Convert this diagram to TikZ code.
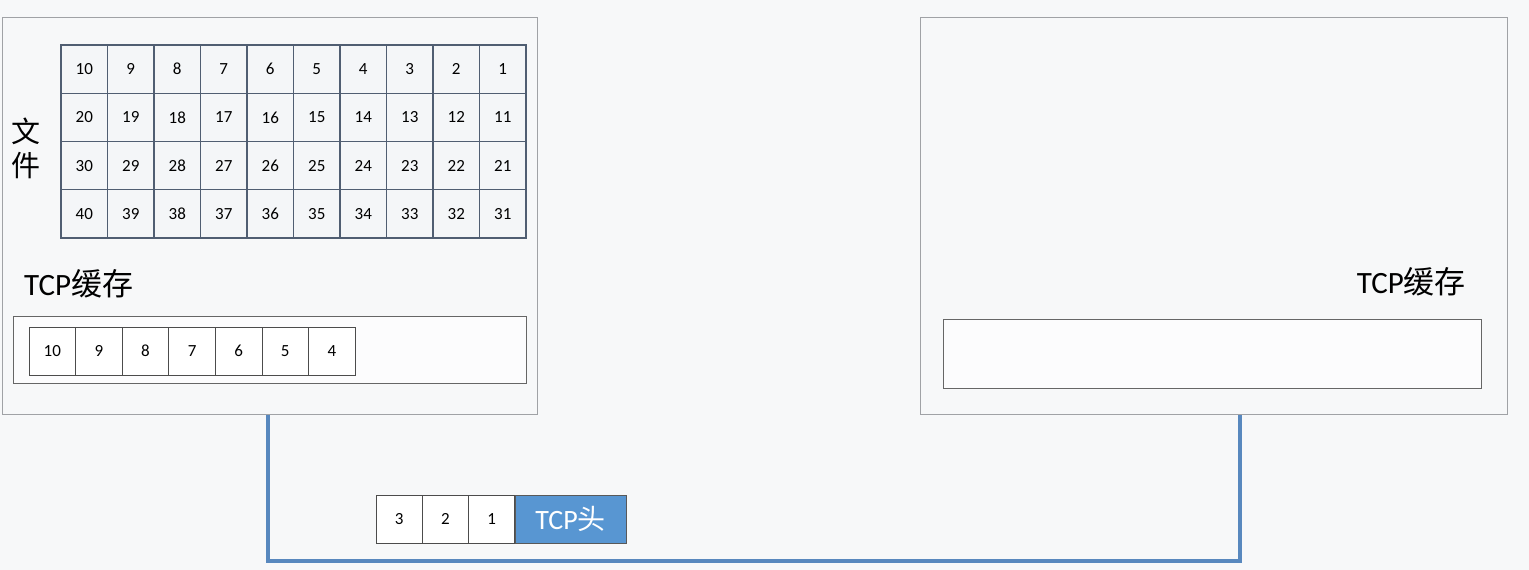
\documentclass[tikz,border=0pt]{standalone}
\usepackage{fontspec}
\setmainfont{Carlito}
\newfontfamily\cjk{Noto Sans CJK SC}
\definecolor{bg}{RGB}{247,248,249}
\definecolor{panelline}{RGB}{160,162,166}
\definecolor{gridline}{RGB}{80,94,114}
\definecolor{cellfill}{RGB}{244,246,248}
\definecolor{wireblue}{RGB}{88,136,190}
\definecolor{headblue}{RGB}{88,150,210}
\tikzset{
  panel/.style={draw=panelline, line width=1pt, fill=bg, inner sep=0pt, anchor=north west},
  bufbox/.style={draw=gray!80!black, line width=1pt, fill=white!60!bg, inner sep=0pt, anchor=north west},
  cell/.style={draw=gridline, line width=1.2pt, fill=cellfill, inner sep=0pt,
    minimum width=46.5pt, minimum height=48.25pt, font=\fontsize{17}{20}\selectfont},
  bcell/.style={draw=gray!60!black, line width=1pt, fill=white, inner sep=0pt,
    minimum width=46.6pt, minimum height=48pt, font=\fontsize{17}{20}\selectfont},
  headcell/.style={draw=gray!70!black, line width=1pt, fill=headblue, text=white, inner sep=0pt,
    minimum width=111pt, minimum height=48pt, font=\fontsize{28}{30}\selectfont},
  lbl/.style={inner sep=0pt, font=\fontsize{31}{34}\selectfont},
  wire/.style={draw=wireblue, line width=3.2pt}
}
\begin{document}
\begin{tikzpicture}[x=1pt,y=-1pt]
\path[fill=bg] (0,0) rectangle (1529,570);
\useasboundingbox (0,0) rectangle (1529,570);
% panels
\node[panel, minimum width=535pt, minimum height=397pt] (lbox) at (2,17) {};
\node[panel, minimum width=587pt, minimum height=397pt] (rbox) at (920,17) {};
% file grid
\foreach \r in {0,...,3}{
  \foreach \c in {0,...,9}{
    \pgfmathtruncatemacro\n{10*\r+10-\c}
    \node[cell] (f\n) at ({61+46.5*(\c+0.5)},{45+48.25*(\r+0.5)}) {\n};
  }
}
\node[inner sep=0pt, align=center, font=\cjk\fontsize{29}{34}\selectfont] (file) at (26,148) {文\\件};
% buffers
\node[lbl, anchor=west] (lbl1) at (24,284) {TCP{\cjk 缓存}};
\node[bufbox, minimum width=513pt, minimum height=67pt] (lbuf) at (13,316) {};
\foreach \c in {0,...,6}{
  \pgfmathtruncatemacro\n{10-\c}
  \node[bcell] (b\n) at ({29+46.6*(\c+0.5)},351) {\n};
}
\node[lbl, anchor=east] (lbl2) at (1466,282) {TCP{\cjk 缓存}};
\node[bufbox, minimum width=538pt, minimum height=69pt] (rbuf) at (943,319) {};
% wire
\coordinate (lport) at ([xshift=266pt]lbox.south west);
\coordinate (rport) at ([xshift=320pt]rbox.south west);
\draw[wire] (lport) -- ++(0,146) -| (rport);
% packet
\foreach \c/\n in {0/3,1/2,2/1}{
  \node[bcell, minimum width=46.3pt] (p\n) at ({376+46.3*(\c+0.5)},519) {\n};
}
\node[headcell] (head) at (570.5,519) {TCP{\cjk 头}};
\end{tikzpicture}
\end{document}
